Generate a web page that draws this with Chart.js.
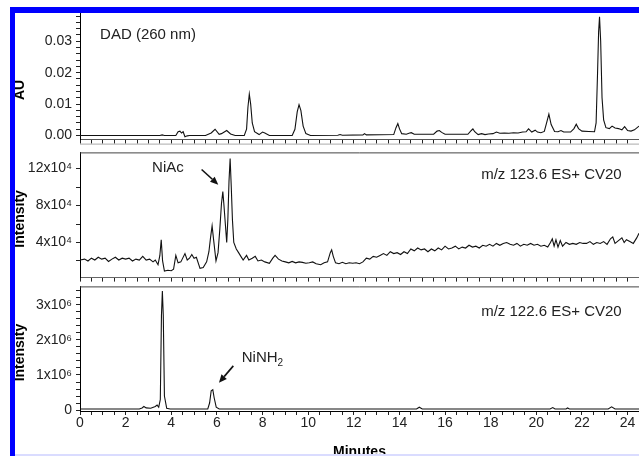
<!DOCTYPE html>
<html>
<head>
<meta charset="utf-8">
<script src="https://cdn.jsdelivr.net/npm/chart.js@4.4.1/dist/chart.umd.min.js"></script>
<style>
  html, body { margin: 0; padding: 0; background: #fff; overflow: hidden; width: 639px; height: 456px; }
  #wrap { position: relative; width: 639px; height: 456px; overflow: hidden; }
  canvas { position: absolute; left: 0; }
  .blue { position: absolute; background: #0000ff; }
</style>
</head>
<body>
<div id="wrap">
  <canvas id="dad" width="639" height="152" style="top:0px"></canvas>
  <canvas id="ms123" width="639" height="150" style="top:140px"></canvas>
  <canvas id="ms122" width="639" height="196" style="top:274px"></canvas>
  <div class="blue" style="left:10px;top:7px;width:5px;height:449px"></div>
  <div class="blue" style="left:10px;top:7px;width:629px;height:6px"></div>
  <div style="position:absolute;left:15px;top:454px;width:624px;height:2px;background:#dadcff"></div>
</div>
<script>
const FONT = '"Liberation Sans", Arial, sans-serif';
Chart.defaults.font.family = FONT;
Chart.defaults.color = "#222";

// x axis (minutes)
const xMajor = [0, 2, 4, 6, 8, 10, 12, 14, 16, 18, 20, 22, 24];
const xTickLabels = ["0", "2", "4", "6", "8", "10", "12", "14", "16", "18", "20", "22", "24"];

// DAD 260 nm trace (AU)
const dadTime = [
  0, 3.5, 3.6, 3.7, 4.2, 4.3, 4.38, 4.45, 4.52, 4.6,
  4.7, 4.8, 5.5, 5.75, 5.92, 6.1, 6.2, 6.43, 6.6, 6.8,
  7.2, 7.3, 7.36, 7.42, 7.48, 7.55, 7.65, 7.85, 8.0, 8.1,
  8.3, 9.3, 9.42, 9.52, 9.6, 9.68, 9.78, 9.9, 10.1, 11.3,
  11.4, 11.5, 12.4, 12.47, 12.55, 13.75, 13.85, 13.93, 14.0, 14.1,
  14.3, 14.45, 14.52, 14.65, 15.5, 15.65, 15.75, 15.85, 16.0, 17.0,
  17.15, 17.22, 17.3, 17.45, 17.6, 17.75, 17.9, 18.1, 18.25, 18.4,
  18.6, 18.8, 19.0, 19.2, 19.4, 19.55, 19.66, 19.8, 19.95, 20.05,
  20.2, 20.35, 20.45, 20.55, 20.65, 20.8, 20.95, 21.08, 21.2, 21.5,
  21.65, 21.75, 21.85, 22.0, 22.3, 22.55, 22.62, 22.68, 22.73, 22.77,
  22.82, 22.88, 22.95, 23.05, 23.2, 23.32, 23.45, 23.6, 23.75, 23.87,
  24.0, 24.15, 24.3, 24.5
];
const dadAU = [
  0, 0, 0.0002, 0, 0, 0.0012, 0.0014, 0.0008, 0.0012, -0.0004,
  -0.0001, 0, 0, 0.0008, 0.002, 0.0004, 0.0006, 0.0016, 0.0005, 0,
  0, 0.002, 0.009, 0.0132, 0.01, 0.004, 0.0012, 0.0003, 0.0011, 0.0008,
  0, 0, 0.002, 0.0075, 0.0098, 0.008, 0.003, 0.0006, 0, 0.0001,
  0.0003, 0.0001, 0.0002, 0.0006, 0.0002, 0.0003, 0.0025, 0.0038, 0.0022, 0.0006,
  0.0004, 0.0008, 0.0009, 0.0004, 0.0004, 0.0014, 0.0016, 0.001, 0.0004, 0.0004,
  0.0016, 0.0021, 0.0012, 0.0003, 0.0006, 0.0003, 0.0005, 0.0006, 0.0011, 0.0007,
  0.0008, 0.0007, 0.0009, 0.0008, 0.0011, 0.0012, 0.0021, 0.0011, 0.0017, 0.0011,
  0.0009, 0.0013, 0.004, 0.0068, 0.0035, 0.0013, 0.0012, 0.0016, 0.0011, 0.0011,
  0.0022, 0.0036, 0.0022, 0.0014, 0.0013, 0.0012, 0.004, 0.019, 0.033, 0.0378,
  0.03, 0.012, 0.005, 0.0025, 0.0022, 0.003, 0.0024, 0.0022, 0.0018, 0.0028,
  0.0016, 0.0014, 0.0018, 0.003
];
const auMajor = [0, 0.01, 0.02, 0.03];
const auTickLabels = ["0.00", "0.01", "0.02", "0.03"];

// m/z 123.6 ES+ CV20 trace (intensity)
const niacTime = [
  0, 0.2, 0.35, 0.5, 0.65, 0.8, 0.95, 1.1, 1.25, 1.4,
  1.55, 1.7, 1.85, 2.0, 2.15, 2.3, 2.45, 2.6, 2.75, 2.9,
  3.05, 3.2, 3.3, 3.42, 3.5, 3.56, 3.62, 3.7, 3.85, 4.0,
  4.1, 4.2, 4.3, 4.42, 4.6, 4.7, 4.8, 4.9, 5.0, 5.1,
  5.26, 5.4, 5.55, 5.65, 5.72, 5.79, 5.86, 5.96, 6.05, 6.13,
  6.2, 6.26, 6.31, 6.37, 6.43, 6.48, 6.53, 6.58, 6.63, 6.68,
  6.74, 6.85, 6.95, 7.05, 7.15, 7.3, 7.4, 7.55, 7.68, 7.8,
  7.95, 8.1, 8.3, 8.45, 8.55, 8.7, 8.85, 9.0, 9.15, 9.3,
  9.45, 9.6, 9.75, 9.9, 10.05, 10.2, 10.35, 10.55, 10.7, 10.85,
  10.97, 11.03, 11.1, 11.2, 11.35, 11.5, 11.65, 11.8, 11.95, 12.1,
  12.25, 12.4, 12.55, 12.7, 12.85, 13.0, 13.15, 13.3, 13.45, 13.6,
  13.75, 13.9, 14.05, 14.2, 14.35, 14.5, 14.65, 14.8, 14.95, 15.1,
  15.25, 15.4, 15.55, 15.7, 15.85, 16.0, 16.15, 16.3, 16.45, 16.6,
  16.75, 16.9, 17.05, 17.2, 17.35, 17.5, 17.65, 17.8, 17.95, 18.1,
  18.25, 18.4, 18.55, 18.7, 18.85, 19.0, 19.15, 19.3, 19.45, 19.6,
  19.75, 19.9, 20.05, 20.2, 20.35, 20.5, 20.62, 20.7, 20.78, 20.86,
  20.95, 21.05, 21.15, 21.3, 21.45, 21.6, 21.75, 21.9, 22.05, 22.2,
  22.35, 22.5, 22.65, 22.8, 22.95, 23.1, 23.25, 23.35, 23.45, 23.6,
  23.75, 23.85, 23.95, 24.1, 24.25, 24.4, 24.5
];
const niacIntensity = [
  21000, 22000, 20000, 23000, 21000, 24000, 22000, 23000, 19500, 22000,
  24000, 21000, 23000, 22000, 23000, 20000, 22000, 21000, 25000, 21000,
  22000, 19000, 21000, 16000, 26000, 43000, 20000, 9000, 10000, 9500,
  11000, 26000, 18000, 19000, 28000, 21000, 23000, 27000, 23000, 24000,
  12000, 13000, 19000, 30000, 45000, 58000, 42000, 20000, 29000, 55000,
  82000, 95000, 80000, 60000, 40000, 65000, 106000, 131000, 100000, 65000,
  40000, 33000, 29000, 25000, 21000, 26000, 21000, 23000, 25000, 20000,
  21000, 19000, 17500, 23000, 26000, 22000, 20000, 19000, 18000, 19500,
  18000, 19000, 18500, 17500, 18000, 19000, 17000, 16000, 18000, 19000,
  29000, 32000, 25000, 18000, 17000, 18500, 17000, 18000, 17500, 18000,
  17000, 19000, 23000, 22000, 25000, 24000, 26000, 28000, 26000, 30000,
  28000, 29000, 27000, 30000, 28000, 33000, 31000, 34000, 32000, 33000,
  30000, 33000, 31000, 34000, 32000, 36000, 33000, 34000, 36000, 33000,
  35000, 34000, 37000, 35000, 36000, 34000, 37000, 36000, 38000, 36000,
  39000, 37000, 39000, 40000, 38000, 37000, 39000, 36000, 38000, 37000,
  39000, 37000, 38000, 36000, 37000, 35000, 40000, 44000, 36000, 43000,
  35000, 42000, 36000, 40000, 38000, 39000, 38000, 40000, 39000, 39000,
  41000, 38000, 40000, 39000, 41000, 38000, 44000, 46000, 39000, 42000,
  45000, 40000, 43000, 41000, 39000, 45000, 50000
];
const niacMajor = [40000, 80000, 120000];
const niacTickLabels = ["4x10⁴", "8x10⁴", "12x10⁴"];

// m/z 122.6 ES+ CV20 trace (intensity)
const ninhTime = [
  0, 2.6, 2.72, 2.8, 2.9, 3.1, 3.3, 3.38, 3.45, 3.52,
  3.57, 3.61, 3.65, 3.7, 3.8, 3.95, 5.6, 5.68, 5.75, 5.82,
  5.88, 5.97, 6.1, 14.75, 14.87, 15.0, 20.6, 20.72, 20.82, 21.3,
  21.37, 21.45, 23.15, 23.3, 23.45, 24.5
];
const ninhIntensity = [
  30000, 30000, 60000, 100000, 60000, 50000, 100000, 140000, 80000, 300000,
  2700000, 3400000, 2700000, 400000, 50000, 30000, 30000, 200000, 550000, 580000,
  350000, 80000, 30000, 30000, 80000, 30000, 30000, 70000, 30000, 30000,
  60000, 30000, 30000, 90000, 30000, 30000
];
const ninhMajor = [0, 1000000, 2000000, 3000000];
const ninhTickLabels = ["0", "1x10⁶", "2x10⁶", "3x10⁶"];

function pairs(xs, ys) {
  return xs.map((x, i) => ({ x: x, y: ys[i] }));
}

function tickList(lo, hi, step) {
  const out = [];
  for (let i = Math.ceil(lo / step - 1e-9); i * step <= hi + 1e-12; i++) out.push(i * step);
  return out;
}

function labelFor(v, majors, labels) {
  const k = majors.findIndex((m) => Math.abs(m - v) < 1e-9 * Math.max(1, Math.abs(m)));
  return k >= 0 ? labels[k] : "";
}

// grey frame lines between the stacked panels
const panelFrame = {
  id: "panelFrame",
  afterDraw(chart, args, opts) {
    const { ctx, chartArea: a } = chart;
    ctx.save();
    ctx.lineWidth = 1;
    if (opts.top) {
      ctx.strokeStyle = "#444";
      ctx.beginPath();
      ctx.moveTo(a.left, a.top + 0.5);
      ctx.lineTo(a.right, a.top + 0.5);
      ctx.stroke();
    }
    if (opts.under) {
      ctx.strokeStyle = "#aaa";
      ctx.beginPath();
      ctx.moveTo(a.left, a.bottom + 4.5);
      ctx.lineTo(a.right, a.bottom + 4.5);
      ctx.stroke();
    }
    ctx.restore();
  },
};

// panel captions and arrows, placed in data coordinates
const notes = {
  id: "notes",
  afterDatasetsDraw(chart, args, opts) {
    const { ctx, scales } = chart;
    const sx = scales.x, sy = scales.y;
    ctx.save();
    ctx.fillStyle = "#222";
    ctx.textBaseline = "alphabetic";
    (opts.texts || []).forEach((n) => {
      const px = sx.getPixelForValue(n.x);
      const py = sy.getPixelForValue(n.y);
      ctx.font = "15px " + FONT;
      ctx.textAlign = n.align;
      ctx.fillText(n.text, px, py);
      if (n.sub) {
        const w = ctx.measureText(n.text).width;
        ctx.font = "10px " + FONT;
        ctx.textAlign = "left";
        ctx.fillText(n.sub, px + w, py + 4);
      }
    });
    (opts.arrows || []).forEach((ar) => {
      const x0 = sx.getPixelForValue(ar.from[0]), y0 = sy.getPixelForValue(ar.from[1]);
      const x1 = sx.getPixelForValue(ar.to[0]), y1 = sy.getPixelForValue(ar.to[1]);
      const ang = Math.atan2(y1 - y0, x1 - x0);
      const hl = 8, hw = 3.5;
      ctx.strokeStyle = "#111";
      ctx.lineWidth = 1.6;
      ctx.beginPath();
      ctx.moveTo(x0, y0);
      ctx.lineTo(x1 - hl * Math.cos(ang), y1 - hl * Math.sin(ang));
      ctx.stroke();
      ctx.fillStyle = "#111";
      ctx.beginPath();
      ctx.moveTo(x1, y1);
      ctx.lineTo(x1 - hl * Math.cos(ang) + hw * Math.sin(ang), y1 - hl * Math.sin(ang) - hw * Math.cos(ang));
      ctx.lineTo(x1 - hl * Math.cos(ang) - hw * Math.sin(ang), y1 - hl * Math.sin(ang) + hw * Math.cos(ang));
      ctx.closePath();
      ctx.fill();
    });
    ctx.restore();
  },
};

const xTicks = tickList(0, 24.5, 0.5);

function makePanel(id, cfg) {
  const yTicks = tickList(cfg.min, cfg.max, cfg.step);
  return new Chart(document.getElementById(id), {
    type: "line",
    data: {
      datasets: [{
        data: cfg.data,
        borderColor: "#111",
        borderWidth: 1.1,
        pointRadius: 0,
        tension: 0,
        fill: false,
      }],
    },
    options: {
      responsive: false,
      animation: false,
      events: [],
      layout: { padding: { top: cfg.padTop, right: 0, bottom: 0, left: 0 } },
      plugins: {
        legend: { display: false },
        tooltip: { enabled: false },
        panelFrame: cfg.frame,
        notes: cfg.notes,
      },
      scales: {
        x: {
          type: "linear",
          min: 0,
          max: 24.5,
          afterFit: (s) => { s.height = cfg.xHeight; },
          afterBuildTicks: (s) => { s.ticks = xTicks.map((v) => ({ value: v })); },
          grid: { drawOnChartArea: false, drawTicks: true, tickLength: 4, tickColor: "#222" },
          border: { display: true, color: cfg.xBorder, width: 1 },
          ticks: {
            display: cfg.xLabels,
            autoSkip: false,
            maxRotation: 0,
            padding: 0,
            color: "#222",
            font: { size: 14 },
            callback: (v) => labelFor(v, xMajor, xTickLabels),
          },
          title: {
            display: cfg.xLabels,
            text: "Minutes",
            color: "#000",
            font: { size: 14, weight: "bold" },
            padding: { top: 0, bottom: 9 },
          },
        },
        y: {
          min: cfg.min,
          max: cfg.max,
          afterFit: (s) => { s.width = 80; },
          afterBuildTicks: (s) => { s.ticks = yTicks.map((v) => ({ value: v })); },
          grid: { drawOnChartArea: false, drawTicks: true, tickLength: 4, tickColor: "#222" },
          border: { display: true, color: "#000", width: 1 },
          ticks: {
            autoSkip: false,
            padding: 4,
            color: "#222",
            font: { size: 14 },
            callback: (v) => labelFor(v, cfg.majors, cfg.labels),
          },
          title: {
            display: true,
            text: cfg.yTitle,
            color: "#000",
            font: { size: 14, weight: "bold" },
            padding: { top: 12, bottom: 0 },
          },
        },
      },
    },
    plugins: [panelFrame, notes],
  });
}

makePanel("dad", {
  data: pairs(dadTime, dadAU),
  min: -0.0013, max: 0.039, step: 0.002,
  majors: auMajor, labels: auTickLabels,
  yTitle: "AU       ",
  padTop: 13, xHeight: 11, xLabels: false, xBorder: "#555",
  frame: { top: false, under: true },
  notes: { texts: [{ text: "DAD (260 nm)", x: 0.88, y: 0.0308, align: "left" }] },
});

makePanel("ms123", {
  data: pairs(niacTime, niacIntensity),
  min: 2000, max: 137500, step: 20000,
  majors: niacMajor, labels: niacTickLabels,
  yTitle: "Intensity  ",
  padTop: 9, xHeight: 10, xLabels: false, xBorder: "#666",
  frame: { top: true, under: false },
  notes: {
    texts: [
      { text: "NiAc", x: 3.16, y: 115800, align: "left" },
      { text: "m/z 123.6 ES+ CV20", x: 23.74, y: 109000, align: "right" },
    ],
    arrows: [{ from: [5.33, 119000], to: [6.06, 102600] }],
  },
});

makePanel("ms122", {
  data: pairs(ninhTime, ninhIntensity),
  min: -28000, max: 3530000, step: 200000,
  majors: ninhMajor, labels: ninhTickLabels,
  yTitle: "Intensity  ",
  padTop: 10, xHeight: 59, xLabels: true, xBorder: "#000",
  frame: { top: true, under: false },
  notes: {
    texts: [
      { text: "m/z 122.6 ES+ CV20", x: 23.74, y: 2688000, align: "right" },
      { text: "NiNH", sub: "2", x: 7.09, y: 1360000, align: "left" },
    ],
    arrows: [{ from: [6.72, 1260000], to: [6.09, 780000] }],
  },
});
</script>
</body>
</html>
